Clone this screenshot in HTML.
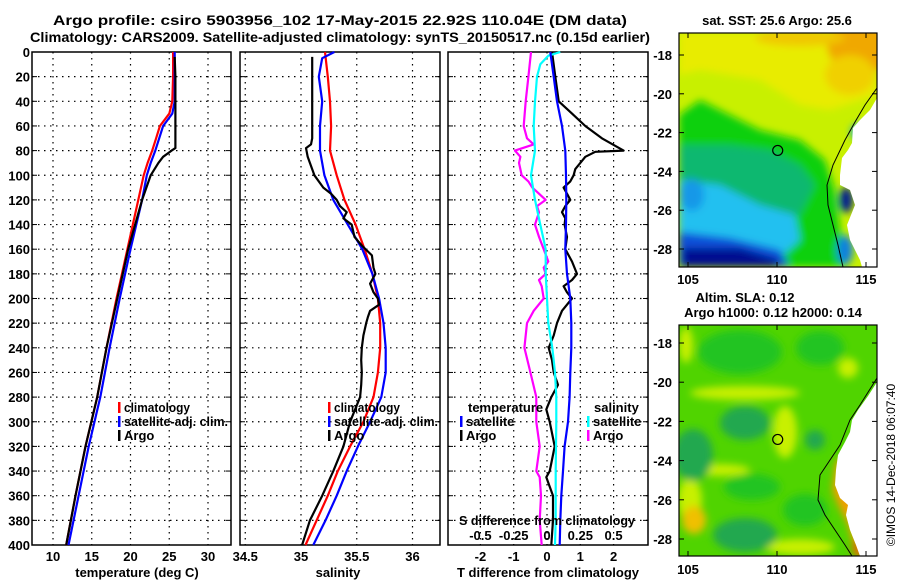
<!DOCTYPE html>
<html><head><meta charset="utf-8">
<style>
html,body{margin:0;padding:0;background:#fff;}
svg{display:block;font-family:"Liberation Sans",Arial,sans-serif;font-weight:bold;}
</style></head>
<body>
<svg id="chart" width="900" height="580" viewBox="0 0 900 580" xmlns="http://www.w3.org/2000/svg">
<defs>
  <filter id="blur4" x="-50%" y="-50%" width="200%" height="200%"><feGaussianBlur stdDeviation="4"/></filter>
  <clipPath id="clipTop"><rect x="679" y="33" width="198" height="234"/></clipPath>
  <clipPath id="clipBot"><rect x="679" y="325" width="198" height="231"/></clipPath>
</defs>
<g id="titles">
  <text x="340" y="25" text-anchor="middle" font-size="14" textLength="574" lengthAdjust="spacingAndGlyphs">Argo profile: csiro 5903956_102 17-May-2015 22.92S 110.04E (DM data)</text>
  <text x="340" y="42" text-anchor="middle" font-size="14" textLength="620" lengthAdjust="spacingAndGlyphs">Climatology: CARS2009. Satellite-adjusted climatology: synTS_20150517.nc (0.15d earlier)</text>
  <text x="777" y="25" text-anchor="middle" font-size="13">sat. SST: 25.6 Argo: 25.6</text>
  <text x="745" y="302" text-anchor="middle" font-size="13">Altim. SLA: 0.12</text>
  <text x="773" y="317" text-anchor="middle" font-size="13">Argo h1000: 0.12 h2000: 0.14</text>
  <text transform="translate(895,465) rotate(-90)" text-anchor="middle" font-size="12" font-weight="normal">©IMOS 14-Dec-2018 06:07:40</text>
</g>
<g id="panels"></g>
<g id="maps"></g>
<g id="lands"></g>
<g id="mapframes"></g>
</svg>
<script>
// ---------------- DATA ----------------
const depthTicks = [0,20,40,60,80,100,120,140,160,180,200,220,240,260,280,300,320,340,360,380,400];
const tempTicks = [10,15,20,25,30];
const salTicks = [34.5,35,35.5,36];
const salTickLabels = ["34.5","35","35.5","36"];
const tdiffTicks = [-2,-1,0,1,2];
const sdiffTicks = [-0.5,-0.25,0,0.25,0.5];
const sdiffTickLabels = ["-0.5","-0.25","0","0.25","0.5"];

const tempClimDepth = [0,10,20,40,50,60,70,80,90,100,120,160,200,240,280,320,360,400];
const tempClim = [25.5,25.5,25.5,25.4,25.0,23.8,23.3,22.8,22.2,21.7,21.0,19.6,18.2,16.9,15.7,14.2,12.9,11.7];
const tempSatDepth = [0,10,20,40,50,60,70,80,90,100,120,160,200,240,280,320,360,400];
const tempSat = [25.7,25.7,25.7,25.7,25.4,24.2,23.7,23.2,22.6,22.1,21.5,20.0,18.6,17.3,16.1,14.6,13.3,12.0];
const tempArgoDepth = [4,20,40,60,70,78,80,85,90,100,120,160,200,240,280,320,360,400];
const tempArgo = [25.7,25.8,25.8,25.8,25.8,25.8,25.3,24.2,23.6,22.6,21.5,19.7,18.3,16.9,15.7,14.2,12.9,11.7];

const salClimDepth = [0,20,40,60,80,100,120,140,160,180,200,220,240,260,280,300,320,340,360,380,400];
const salClim = [35.215,35.24,35.26,35.27,35.26,35.32,35.39,35.49,35.57,35.64,35.69,35.71,35.71,35.69,35.65,35.56,35.44,35.33,35.24,35.14,35.04];
const salSatDepth = [0,5,20,40,60,80,100,120,140,160,180,200,220,240,260,280,300,320,340,360,380,400];
const salSat = [35.30,35.19,35.16,35.19,35.17,35.17,35.21,35.29,35.42,35.55,35.64,35.70,35.74,35.76,35.76,35.72,35.62,35.51,35.41,35.32,35.22,35.11];
const salArgoDepth = [4,20,40,70,75,78,85,90,100,110,115,120,125,130,135,140,150,157,165,175,180,188,195,200,205,210,215,220,230,240,250,260,270,280,300,320,340,360,380,400];
const salArgo = [35.10,35.10,35.10,35.10,35.09,35.045,35.06,35.08,35.12,35.20,35.27,35.32,35.35,35.41,35.38,35.455,35.48,35.545,35.636,35.65,35.667,35.62,35.65,35.69,35.70,35.62,35.60,35.585,35.56,35.545,35.54,35.545,35.54,35.53,35.44,35.38,35.29,35.19,35.08,35.01];

const tdSatDepth = [0,20,40,60,80,100,120,140,160,180,200,220,240,260,280,300,320,340,360,380,400];
const tdSat = [0.1,0.2,0.3,0.45,0.55,0.57,0.58,0.57,0.55,0.6,0.7,0.73,0.73,0.7,0.68,0.63,0.53,0.48,0.43,0.4,0.38];
const tdArgoDepth = [0,20,40,50,60,70,80,81,85,90,95,100,105,110,115,120,125,130,135,140,150,160,170,180,185,190,195,200,210,220,230,240,250,260,270,280,290,300,320,340,345,360,380,400];
const tdArgo = [0.15,0.25,0.35,0.75,1.15,1.65,2.3,1.45,1.15,1.0,0.85,0.8,0.7,0.5,0.6,0.7,0.55,0.45,0.55,0.53,0.6,0.55,0.75,0.9,0.75,0.5,0.6,0.75,0.45,0.3,0.2,0.05,0.15,0.2,0.33,0.13,-0.02,0.08,0.23,0.08,-0.02,0.18,0.18,0.13];
const sdSatDepth = [0,3,10,20,40,60,80,100,120,140,160,180,200,220,240,260,280,300,340,380,400];
const sdSat = [0.1,0.01,-0.05,-0.075,-0.09,-0.1,-0.09,-0.12,-0.09,-0.05,-0.01,-0.01,0,0.01,0.04,0.06,0.07,0.07,0.065,0.065,0.06];
const sdArgoDepth = [0,20,40,60,70,75,80,85,90,100,105,110,115,120,125,130,140,150,160,170,175,180,185,190,200,210,220,240,260,280,300,320,340,345,360,380,400];
const sdArgo = [-0.12,-0.14,-0.16,-0.175,-0.15,-0.1,-0.24,-0.2,-0.21,-0.19,-0.14,-0.11,-0.06,-0.01,-0.075,-0.06,-0.09,-0.06,-0.025,0.01,-0.025,-0.01,-0.06,-0.04,-0.025,-0.1,-0.15,-0.17,-0.125,-0.08,-0.08,-0.055,-0.08,-0.055,-0.045,-0.055,-0.04];

const lonTicks = [105,110,115];
const latTicks = [-18,-20,-22,-24,-26,-28];
const argoLon = 110.04;
const argoLat = -22.92;

// ---------------- SCALES ----------------
const NS = "http://www.w3.org/2000/svg";
const Y0 = 52, Y1 = 545;
function yD(d){ return Y0 + d*(Y1-Y0)/400; }
function xT(t){ return 53 + (t-10)*7.75; }
function xS(s){ return 301 + (s-35)*111.5; }
function xTD(v){ return 547 + v*33.3; }
function xSD(v){ return 547 + v*133.2; }
function lonX(l){ return 777 + (l-110)*17.8; }
function latTop(l){ return 55 + (-18-l)*19.4; }
function latBot(l){ return 343 + (-18-l)*19.6; }

function mk(tag, attrs, parent){
  const e = document.createElementNS(NS, tag);
  for (const k in attrs) e.setAttribute(k, attrs[k]);
  parent.appendChild(e);
  return e;
}
const panels = document.getElementById('panels');
const maps = document.getElementById('maps');
const lands = document.getElementById('lands');
const frames = document.getElementById('mapframes');

function panel(x0, x1, name, xs, xf, labels, showY){
  const g = mk('g', {}, panels);
  
  
  depthTicks.forEach(d => {
    if (d>0 && d<400){
      const l = mk('line', {x1:x0, x2:x1, y1:yD(d), y2:yD(d), stroke:'#000', 'stroke-width':1.2, 'stroke-dasharray':'1.5,4.5'}, g);
      
      
    }
    mk('line', {x1:x1-5, x2:x1, y1:yD(d), y2:yD(d), stroke:'#000','stroke-width':1}, g);
    mk('line', {x1:x0, x2:x0+5, y1:yD(d), y2:yD(d), stroke:'#000','stroke-width':1}, g);
    if (showY){
      const t = mk('text', {x:30, y:yD(d)+5, 'text-anchor':'end', 'font-size':13}, g);
      t.textContent = d;
      
      
    }
  });
  xs.forEach((v,i) => {
    const X = xf(v);
    if (X > x0+1 && X < x1-1){
      const l = mk('line', {x1:X, x2:X, y1:Y0, y2:Y1, stroke:'#000','stroke-width':1.2,'stroke-dasharray':'1.5,4.5'}, g);
      
      
    }
    if (labels){
      const t = mk('text', {x:X, y:561, 'text-anchor':'middle', 'font-size':13}, g);
      t.textContent = labels[i];
      
      
    }
  });
  const r = mk('rect', {x:x0, y:Y0, width:x1-x0, height:Y1-Y0, fill:'none', stroke:'#000', 'stroke-width':1.5}, g);
  
  
  return g;
}
function line(g, depths, vals, xf, color, name){
  const pts = depths.map((d,i) => xf(vals[i]).toFixed(1)+','+yD(d).toFixed(1)).join(' ');
  const p = mk('polyline', {points:pts, fill:'none', stroke:color, 'stroke-width':2.2, 'stroke-linejoin':'round'}, g);
  
  
}
function label(g, x, y, txt, name, anchor, size, len){
  const a = {x:x, y:y, 'text-anchor':anchor||'start', 'font-size':size||13};
  if (len){ a.textLength = len; a.lengthAdjust = 'spacingAndGlyphs'; }
  const t = mk('text', a, g);
  t.textContent = txt;
  
  
  return t;
}
function legend(g, x, y, color, txt, name, len){
  mk('rect', {x:x, y:y-10, width:2.5, height:11, fill:color}, g);
  label(g, x+6, y, txt, name, 'start', 13, len);
}

// Panel 1 temperature
const p1 = panel(32, 231, 'temperature-panel', tempTicks, xT, tempTicks.map(String), true);
line(p1, tempClimDepth, tempClim, xT, '#f00', 'temp-climatology-line');
line(p1, tempSatDepth, tempSat, xT, '#00f', 'temp-satellite-line');
line(p1, tempArgoDepth, tempArgo, xT, '#000', 'temp-argo-line');
legend(p1, 118, 412, '#f00', 'climatology', 'legend-climatology', 66);
legend(p1, 118, 426, '#00f', 'satellite-adj. clim.', 'legend-satellite-adj', 104);
legend(p1, 118, 440, '#000', 'Argo', 'legend-argo');
label(p1, 137, 577, 'temperature (deg C)', 'x-axis-title-temperature', 'middle');

// Panel 2 salinity
const p2 = panel(240, 440, 'salinity-panel', salTicks, xS, salTickLabels, false);
line(p2, salClimDepth, salClim, xS, '#f00', 'sal-climatology-line');
line(p2, salSatDepth, salSat, xS, '#00f', 'sal-satellite-line');
line(p2, salArgoDepth, salArgo, xS, '#000', 'sal-argo-line');
legend(p2, 328, 412, '#f00', 'climatology', 'legend-climatology', 66);
legend(p2, 328, 426, '#00f', 'satellite-adj. clim.', 'legend-satellite-adj', 104);
legend(p2, 328, 440, '#000', 'Argo', 'legend-argo');
label(p2, 338, 577, 'salinity', 'x-axis-title-salinity', 'middle');

// Panel 3 differences
const p3 = panel(448, 648, 'difference-panel', tdiffTicks, xTD, tdiffTicks.map(String), false);
line(p3, sdArgoDepth, sdArgo, xSD, '#f0f', 'sdiff-argo-line');
line(p3, tdArgoDepth, tdArgo, xTD, '#000', 'tdiff-argo-line');
line(p3, sdSatDepth, sdSat, xSD, '#0ff', 'sdiff-satellite-line');
line(p3, tdSatDepth, tdSat, xTD, '#00f', 'tdiff-satellite-line');
label(p3, 468, 412, 'temperature', 'legend-temperature-heading');
legend(p3, 460, 426, '#00f', 'satellite', 'legend-t-satellite');
legend(p3, 460, 440, '#000', 'Argo', 'legend-t-argo');
label(p3, 594, 412, 'salinity', 'legend-salinity-heading');
legend(p3, 587, 426, '#0ff', 'satellite', 'legend-s-satellite');
legend(p3, 587, 440, '#f0f', 'Argo', 'legend-s-argo');
label(p3, 459, 525, 'S difference from climatology', 'sdiff-axis-title', 'start', 13, 176);
sdiffTicks.forEach((v,i) => label(p3, xSD(v), 540, sdiffTickLabels[i], 'sdiff-tick-label', 'middle'));
label(p3, 548, 577, 'T difference from climatology', 'x-axis-title-tdiff', 'middle');

// ---------------- MAPS ----------------
function ell(g, cx, cy, rx, ry, c){ mk('ellipse', {cx:cx, cy:cy, rx:rx, ry:ry, fill:c}, g); }
function poly(g, pts, attrs){ const a = Object.assign({points:pts}, attrs); return mk('polygon', a, g); }

// Top SST map
const mt = mk('g', {'clip-path':'url(#clipTop)'}, maps);


mk('rect', {x:679, y:33, width:198, height:234, fill:'#c8f000'}, mt);
const bt = mk('g', {filter:'url(#blur4)'}, mt);
poly(bt, '679,33 877,33 877,95 830,110 800,105 760,80 700,70 679,75', {fill:'#e8ec00'});
ell(bt, 862, 45, 35, 28, '#f0a800');
ell(bt, 800, 38, 45, 8, '#f0c800');
ell(bt, 850, 75, 25, 20, '#f0d000');
poly(bt, '679,115 700,100 720,110 760,130 800,140 825,160 835,190 845,267 679,267', {fill:'#10d010'});
poly(bt, '679,145 730,145 770,150 800,165 815,185 800,215 750,215 679,205', {fill:'#10b870'});
poly(bt, '679,180 720,185 760,205 795,215 800,240 770,267 679,267', {fill:'#20c0f0'});
ell(bt, 692, 195, 12, 16, '#1898e8');
poly(bt, '679,232 730,238 780,250 790,267 679,267', {fill:'#1050d8'});
poly(bt, '683,248 740,248 780,260 775,267 683,267', {fill:'#001090'});
ell(bt, 845, 250, 8, 15, '#1080e0');
ell(bt, 860, 132, 9, 8, '#10a8e0');
ell(bt, 846, 200, 7, 13, '#001a90');
mk('polyline', {points:'877,88 865,105 855,122 845,140 833,165 827,185 828,205 833,225 838,245 843,267', fill:'none', stroke:'#000', 'stroke-width':1}, mt);

// Bottom SLA map
const mb = mk('g', {'clip-path':'url(#clipBot)'}, maps);


mk('rect', {x:679, y:325, width:198, height:231, fill:'#50d400'}, mb);
const bb = mk('g', {filter:'url(#blur4)'}, mb);
const YL = '#c8f000', G = '#20c420', GD = '#20a850';
ell(bb, 686, 345, 7, 18, YL);
ell(bb, 745, 393, 55, 7, YL);
ell(bb, 848, 368, 10, 10, YL);
ell(bb, 785, 432, 12, 26, YL);
ell(bb, 720, 470, 30, 6, YL);
ell(bb, 690, 500, 12, 22, YL);
ell(bb, 800, 547, 35, 8, YL);
ell(bb, 740, 352, 42, 22, G);
ell(bb, 820, 348, 24, 17, G);
ell(bb, 745, 423, 25, 17, GD);
ell(bb, 693, 455, 20, 26, GD);
ell(bb, 815, 440, 10, 10, GD);
ell(bb, 752, 487, 28, 13, G);
ell(bb, 805, 510, 22, 16, G);
ell(bb, 745, 535, 32, 17, GD);
ell(bb, 694, 520, 12, 14, '#f0c000');
poly(bb, '836,460 832,490 838,505 848,525 856,556 877,556 877,455', {fill:'#f0a000'});
ell(bb, 860, 548, 8, 10, '#e07000');
mk('polyline', {points:'877,378 860,405 850,420 840,445 820,475 818,500 825,515 835,530 845,545 852,556', fill:'none', stroke:'#000', 'stroke-width':1}, mb);

// Land (drawn on top of the raster layers)
const landTop = mk('path', {d:'M877,98 L870,110 L860,120 L853,128 L852,143 L848,150 L842,158 L840,175 L840,185 L850,190 L855,205 L851,215 L847,225 L850,240 L855,250 L860,260 L862,267 L877,267 Z', fill:'#ffffff', stroke:'none'}, lands);


const landBot = mk('path', {d:'M877,382 L868,396 L858,410 L852,420 L850,432 L845,442 L838,455 L836,470 L835,485 L840,498 L848,505 L846,515 L850,530 L856,545 L860,556 L877,556 Z', fill:'#ffffff', stroke:'none'}, lands);



// frames, markers, axes
mk('rect', {x:679, y:33, width:198, height:234, fill:'none', stroke:'#000', 'stroke-width':1.2}, frames);
mk('rect', {x:679, y:325, width:198, height:231, fill:'none', stroke:'#000', 'stroke-width':1.2}, frames);
const mkT = mk('circle', {cx:lonX(argoLon), cy:latTop(argoLat), r:5, fill:'none', stroke:'#000', 'stroke-width':1.2}, frames);


const mkB = mk('circle', {cx:lonX(argoLon), cy:latBot(argoLat), r:5, fill:'none', stroke:'#000', 'stroke-width':1.2}, frames);



function mapAxes(g, latf, yBottom, yTop, labelY){
  latTicks.forEach(l => {
    const Yp = latf(l);
    mk('line', {x1:679, x2:684, y1:Yp, y2:Yp, stroke:'#000'}, g);
    mk('line', {x1:872, x2:877, y1:Yp, y2:Yp, stroke:'#000'}, g);
    const t = mk('text', {x:672, y:Yp+5, 'text-anchor':'end', 'font-size':13}, g);
    t.textContent = l;
    
    
  });
  lonTicks.forEach(l => {
    const X = lonX(l);
    mk('line', {x1:X, x2:X, y1:yBottom-5, y2:yBottom, stroke:'#000'}, g);
    mk('line', {x1:X, x2:X, y1:yTop, y2:yTop+5, stroke:'#000'}, g);
    const t = mk('text', {x:X, y:labelY, 'text-anchor':'middle', 'font-size':13}, g);
    t.textContent = l;
    
    
  });
}
mapAxes(frames, latTop, 267, 33, 284);
mapAxes(frames, latBot, 556, 325, 574);
</script>
</body></html>
